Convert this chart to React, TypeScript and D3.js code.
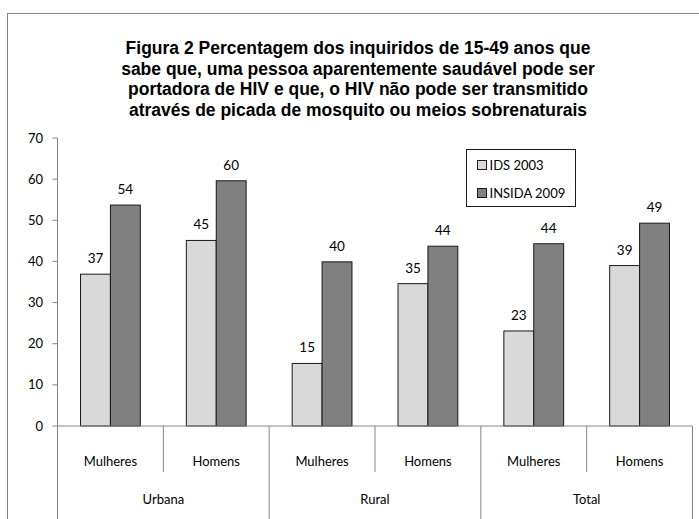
import React from "react";
import * as d3 from "d3";

// dados
const grupos = ["Urbana", "Rural", "Total"];
const sexos = ["Mulheres", "Homens"];
const series = ["IDS 2003", "INSIDA 2009"];
const ids2003 = [36.9, 45.1, 15.2, 34.6, 23.1, 39.0];
const insida2009 = [53.7, 59.6, 39.9, 43.7, 44.3, 49.3];
const yTicks = [0, 10, 20, 30, 40, 50, 60, 70];
const titulo = [
  "Figura 2 Percentagem dos inquiridos de 15-49 anos que",
  "sabe que, uma pessoa aparentemente saudável pode ser",
  "portadora de HIV e que, o HIV não pode ser transmitido",
  "através de picada de mosquito ou meios sobrenaturais",
];
const cores = ["#d9d9d9", "#808080"];

const W = 699;
const H = 519;
const FONT = "Lato, 'Liberation Sans', sans-serif";
const AXIS = "#868686";

export default function App() {
  const left = 57.5;
  const right = 692.5;
  const y = d3.scaleLinear().domain([0, 70]).range([426, 138]);

  const cats = grupos.flatMap((g) => sexos.map((s) => `${g}|${s}`));
  const x = d3.scaleBand().domain(cats).range([left, right]).padding(0);
  const bw = x.bandwidth();
  const inner = d3
    .scaleBand()
    .domain(series)
    .range([0, bw])
    .paddingInner(0)
    .paddingOuter(0.77);
  const xg = d3.scaleBand().domain(grupos).range([left, right]).padding(0);

  const valores = [ids2003, insida2009];
  const fmt = d3.format(".0f");

  return (
    <svg
      width={W}
      height={H}
      style={{ position: "fixed", left: 0, top: 0, background: "#fff" }}
      fontFamily={FONT}
    >
      <rect x={0} y={0} width={W} height={H} fill="#fff" />
      <rect x={7.5} y={13.5} width={730} height={540} fill="none" stroke={AXIS} strokeWidth={1} />

      {titulo.map((t, i) => (
        <text
          key={i}
          x={358}
          y={54 + i * 20.5}
          textAnchor="middle"
          fontFamily="'Liberation Sans', Arial, sans-serif"
          fontWeight="bold"
          fontSize={17.5}
          fill="#000"
        >
          {t}
        </text>
      ))}

      {/* eixo y */}
      <line x1={left} x2={left} y1={y(70)} y2={H} stroke={AXIS} />
      {yTicks.map((t) => (
        <g key={t}>
          <line x1={left - 5} x2={left} y1={y(t)} y2={y(t)} stroke={AXIS} />
          <text x={43} y={y(t)} dy="0.35em" textAnchor="end" fontSize={13} fill="#000">
            {t}
          </text>
        </g>
      ))}

      {/* barras */}
      {cats.map((c, i) =>
        series.map((s, j) => {
          const v = valores[j][i];
          const bx = (x(c) as number) + (inner(s) as number);
          return (
            <g key={c + s}>
              <rect
                x={bx}
                y={y(v)}
                width={inner.bandwidth()}
                height={y(0) - y(v)}
                fill={cores[j]}
                stroke="#1a1a1a"
                strokeWidth={1}
              />
              <text
                x={bx + inner.bandwidth() / 2}
                y={y(v) - 11}
                textAnchor="middle"
                fontSize={13.5}
                fill="#000"
              >
                {fmt(v)}
              </text>
            </g>
          );
        })
      )}

      {/* eixo x em dois níveis */}
      <line x1={left} x2={right} y1={y(0)} y2={y(0)} stroke={AXIS} />
      {cats.map((c, i) => {
        const cx = (x(c) as number) + bw / 2;
        return (
          <g key={c}>
            {i % 2 === 1 && (
              <line x1={x(c)} x2={x(c)} y1={y(0)} y2={472} stroke={AXIS} />
            )}
            <text x={cx} y={461} dy="0.35em" textAnchor="middle" fontSize={13} fill="#000">
              {c.split("|")[1]}
            </text>
          </g>
        );
      })}
      {grupos.map((g) => (
        <g key={g}>
          <line x1={xg(g)} x2={xg(g)} y1={y(0)} y2={H} stroke={AXIS} />
          <text
            x={(xg(g) as number) + xg.bandwidth() / 2}
            y={499}
            dy="0.35em"
            textAnchor="middle"
            fontSize={13}
            fill="#000"
          >
            {g}
          </text>
        </g>
      ))}
      <line x1={right} x2={right} y1={y(0)} y2={H} stroke={AXIS} />

      {/* legenda */}
      <rect x={466.5} y={149.5} width={109} height={57} fill="#fff" stroke="#1a1a1a" />
      {series.map((s, j) => (
        <g key={s} transform={`translate(477.5, ${160.5 + j * 28})`}>
          <rect width={9} height={9} fill={cores[j]} stroke="#1a1a1a" />
          <text x={12} y={4.5} dy="0.35em" fontSize={13} fill="#000">
            {s}
          </text>
        </g>
      ))}
    </svg>
  );
}
